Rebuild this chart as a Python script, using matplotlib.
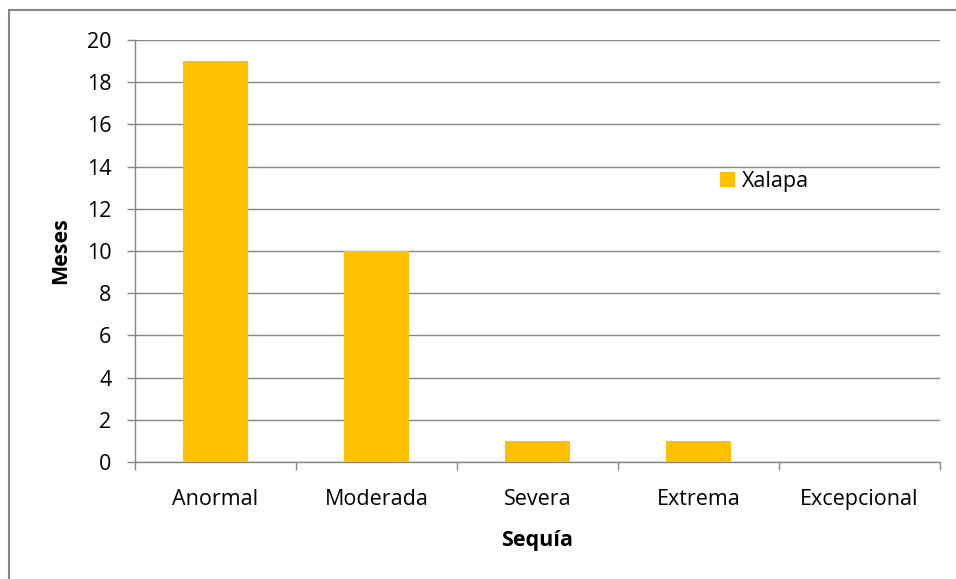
import numpy as np
import matplotlib.pyplot as plt
from matplotlib.patches import Rectangle

categorias = ['Anormal', 'Moderada', 'Severa', 'Extrema', 'Excepcional']
meses = [19, 10, 1, 1, 0]
serie = 'Xalapa'
y_ticks = [0, 2, 4, 6, 8, 10, 12, 14, 16, 18, 20]

plt.rcParams['font.family'] = ['Open Sans', 'DejaVu Sans']
gris = '#868686'
amarillo = '#FFC000'
fs = 15.5

fig = plt.figure(figsize=(9.56, 5.79), dpi=100)
ax = fig.add_axes([135 / 956, 117 / 579, 805 / 956, 422 / 579])

x = np.arange(len(categorias))
ax.bar(x, meses, width=0.4, color=amarillo, label=serie, zorder=3)

ax.set_xlim(-0.5, len(categorias) - 0.5)
ax.set_ylim(0, 20)
ax.set_yticks(y_ticks)
ax.yaxis.grid(True, color=gris, linewidth=1.0, zorder=0)

ax.set_xticks(x)
ax.set_xticklabels(categorias)
ax.set_xticks(np.arange(-0.5, len(categorias)), minor=True)
ax.tick_params(axis='x', which='major', length=0, pad=19.5, labelsize=fs)
ax.tick_params(axis='x', which='minor', length=6, color=gris, width=1.0, direction='out')
ax.tick_params(axis='y', length=6, color=gris, width=1.0, pad=11, labelsize=fs)

for s in ['top', 'right']:
    ax.spines[s].set_visible(False)
for s in ['left', 'bottom']:
    ax.spines[s].set_color(gris)
    ax.spines[s].set_linewidth(1.0)

ax.set_xlabel('Sequía', fontsize=fs, fontweight='bold', labelpad=14)
ax.set_ylabel('Meses', fontsize=fs, fontweight='bold', labelpad=11)

ax.legend(loc='center left', bbox_to_anchor=(0.727, 0.665), frameon=False,
          fontsize=fs, handlelength=0.7, handleheight=0.7, handletextpad=0.3,
          borderpad=0, borderaxespad=0)

# marco exterior del grafico
fig.patches.append(Rectangle((9 / 956, -0.1), 1.0, 1.1 - 10 / 579,
                             transform=fig.transFigure, fill=False,
                             edgecolor=gris, linewidth=1.5))

fig.savefig('out.png', dpi=100)
